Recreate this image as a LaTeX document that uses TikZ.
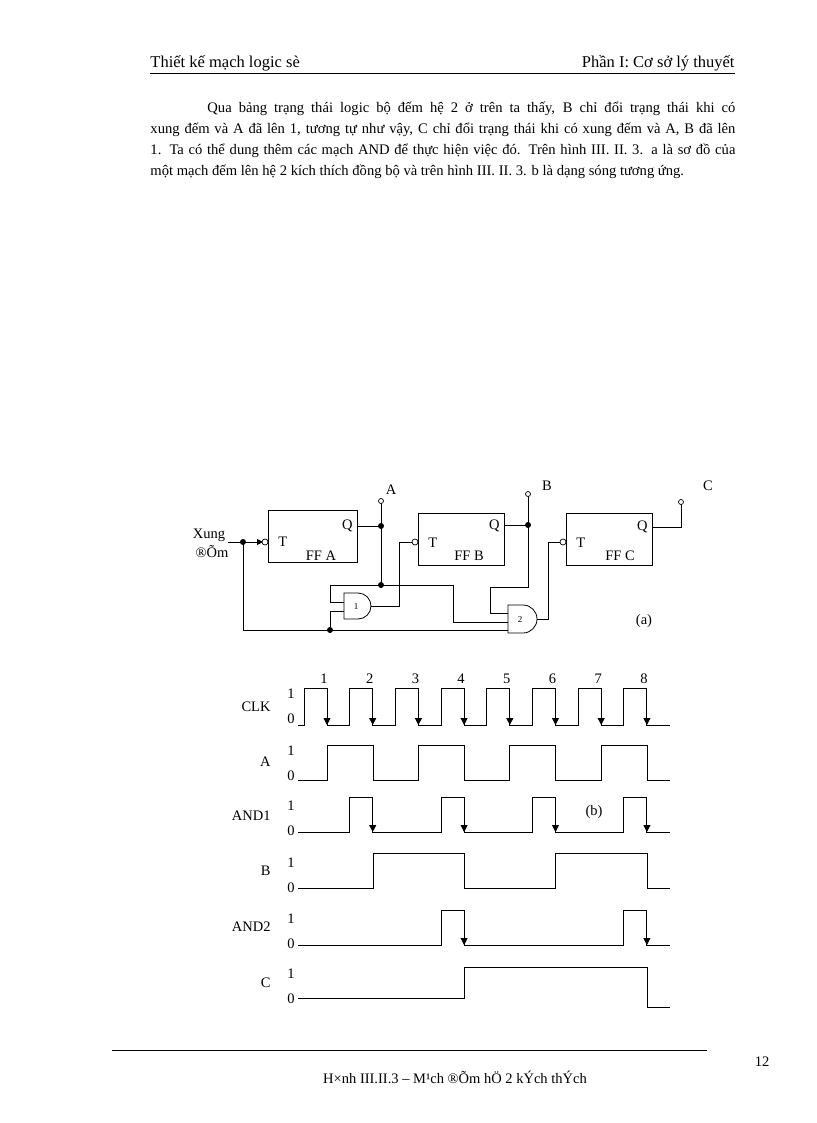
\documentclass[tikz,border=0pt]{standalone}
\usepackage{fontspec}
\setmainfont{Liberation Serif}
\usetikzlibrary{arrows.meta}
\begin{document}
\begin{tikzpicture}[x=1pt,y=-1pt,line width=0.9pt,
  lbl/.style={font=\fontsize{14.5}{16}\selectfont,inner sep=0pt},
  ff/.style={draw,line width=0.8pt},
  dot/.style={circle,fill,inner sep=0pt,minimum size=6pt},
  bub/.style={circle,draw,fill=white,inner sep=0pt,minimum size=6pt,line width=0.7pt},
  edge/.style={-{Triangle[length=7pt,width=7pt]}}]
\useasboundingbox (0,0) rectangle (816,1123);
% header
\node[anchor=base west,inner sep=0pt,font=\fontsize{16.5}{18}\selectfont] (h1) at (150,68) {Thiết kế mạch logic sè};
\node[anchor=base east,inner sep=0pt,font=\fontsize{16.5}{18}\selectfont] (h2) at (735,68) {Phần I: Cơ sở lý thuyết};
\draw[line width=0.7pt] (150,73) -- (735,73);
\node[anchor=north west,inner sep=0pt,text width=585pt,align=justify,font=\fontsize{14.6}{21}\selectfont] (par) at (150,101)
{\hspace*{57pt}Qua bảng trạng thái logic bộ đếm hệ 2 ở trên ta thấy, B chỉ đổi trạng thái khi có\linebreak xung đếm và A đã lên 1, tương tự như vậy, C chỉ đổi trạng thái khi có xung đếm và A, B đã lên\linebreak 1. Ta có thể dung thêm các mạch AND để thực hiện việc đó. Trên hình III. II. 3. a là sơ đồ của\linebreak một mạch đếm lên hệ 2 kích thích đồng bộ và trên hình III. II. 3. b là dạng sóng tương ứng.};
% flip-flops
\node[ff,minimum width=89pt,minimum height=52pt,anchor=north west] (FA) at (268,510) {};
\node[ff,minimum width=86pt,minimum height=52pt,anchor=north west] (FB) at (418,513) {};
\node[ff,minimum width=86pt,minimum height=52pt,anchor=north west] (FC) at (566,513) {};
\node[lbl,anchor=west] at (278,542) {T};
\node[lbl,anchor=west] at (428,543) {T};
\node[lbl,anchor=west] at (576,543) {T};
\node[lbl,anchor=east] at (353,526) {Q};
\node[lbl,anchor=east] at (500,526) {Q};
\node[lbl,anchor=east] at (648,527) {Q};
\node[lbl] at (321,556) {FF A};
\node[lbl] at (469,556) {FF B};
\node[lbl] at (620,556) {FF C};
\node[lbl] (xung) at (209,535) {Xung};
\node[lbl] at (212,551) {®Õm};
% gates
\draw[line width=0.8pt] (344,593) -- (358,593) arc (-90:90:13) -- (344,619) -- cycle;
\node[lbl,font=\fontsize{9}{9}\selectfont] at (356,607) {1};
\draw[line width=0.8pt] (508,605) -- (523,605) arc (-90:90:14) -- (508,633) -- cycle;
\node[lbl,font=\fontsize{9}{9}\selectfont] at (520,620) {2};
% wiring
\draw (228,542) -- (260,542);
\draw[-{Triangle[length=6pt,width=6pt]}] (250,542) -- (263,542);
\draw (243,542) -- (243,630) -- (508,630);
\draw (330,630) -- (330,611) -- (344,611);
\draw (357,526) -- (381,526);
\draw (381,500) -- (381,585);
\draw (381,585) -- (330,585) -- (330,602) -- (344,602);
\draw (381,585) -- (453,585) -- (453,622) -- (508,622);
\draw (371,606) -- (399,606) -- (399,542) -- (415,542);
\draw (504,525) -- (528,525);
\draw (528,495) -- (528,587) -- (490,587) -- (490,613) -- (508,613);
\draw (537,619) -- (548,619) -- (548,542) -- (563,542);
\draw (652,527) -- (681,527) -- (681,503);
\node[dot] (d1) at (243,542) {};
\node[dot] (d2) at (381,526) {};
\node[dot] (d3) at (381,585) {};
\node[dot] (d4) at (330,630) {};
\node[dot] (d5) at (528,525) {};
\node[bub] at (265,542) {};
\node[bub] at (415,542) {};
\node[bub] at (563,542) {};
\node[bub,minimum size=5pt] at (381,501) {};
\node[bub,minimum size=5pt] at (528,494) {};
\node[bub,minimum size=5pt] at (681,502) {};
\node[lbl] at (391,490) {A};
\node[lbl] at (547,486) {B};
\node[lbl] at (708,486) {C};
\node[lbl] at (644,621) {(a)};
% timing
\foreach \n/\y in {CLK/707,A/762,AND1/816,B/871,AND2/927,C/983}
  \node[lbl,anchor=east] at (271,\y) {\n};
\foreach \y in {688,745,800,857,913,968}{
  \node[lbl] at (291,\y+6) {1};
  \node[lbl] at (291,\y+31) {0};}
\foreach \k in {1,...,8} \node[lbl] at ({324+(\k-1)*45.7},679) {\k};
% CLK
\draw (298,725) foreach \k in {0,...,7} {-- ({304+\k*45.7},725) -- ({304+\k*45.7},688) -- ({327+\k*45.7},688) -- ({327+\k*45.7},725)} -- (670,725);
\foreach \k in {0,...,7} \draw[edge] ({327+\k*45.7},700) -- ({327+\k*45.7},725);
% A
\draw (298,780) foreach \k in {0,2,4,6} {-- ({327+\k*45.7},780) -- ({327+\k*45.7},745) -- ({373+\k*45.7},745) -- ({373+\k*45.7},780)} -- (670,780);
% AND1
\draw (298,832) foreach \k in {1,3,5,7} {-- ({304+\k*45.7},832) -- ({304+\k*45.7},797) -- ({327+\k*45.7},797) -- ({327+\k*45.7},832)} -- (670,832);
\foreach \k in {1,3,5,7} \draw[edge] ({327+\k*45.7},808) -- ({327+\k*45.7},832);
% B
\draw (298,888) -- (373,888) -- (373,853) -- (464,853) -- (464,888) -- (555,888) -- (555,853) -- (647,853) -- (647,888) -- (670,888);
% AND2
\draw (298,945) foreach \k in {3,7} {-- ({304+\k*45.7},945) -- ({304+\k*45.7},910) -- ({327+\k*45.7},910) -- ({327+\k*45.7},945)} -- (670,945);
\foreach \k in {3,7} \draw[edge] ({327+\k*45.7},921) -- ({327+\k*45.7},945);
% C
\draw (298,998) -- (464,998) -- (464,967) -- (647,967) -- (647,1007) -- (670,1007);
\node[lbl] at (594,812) {(b)};
% footer
\draw[line width=0.7pt] (112,1050) -- (707,1050);
\node[lbl] at (762,1062) {12};
\node[lbl] (cap) at (455,1077) {H×nh III.II.3 – M¹ch ®Õm hÖ 2 kÝch thÝch};
\end{tikzpicture}
\end{document}
